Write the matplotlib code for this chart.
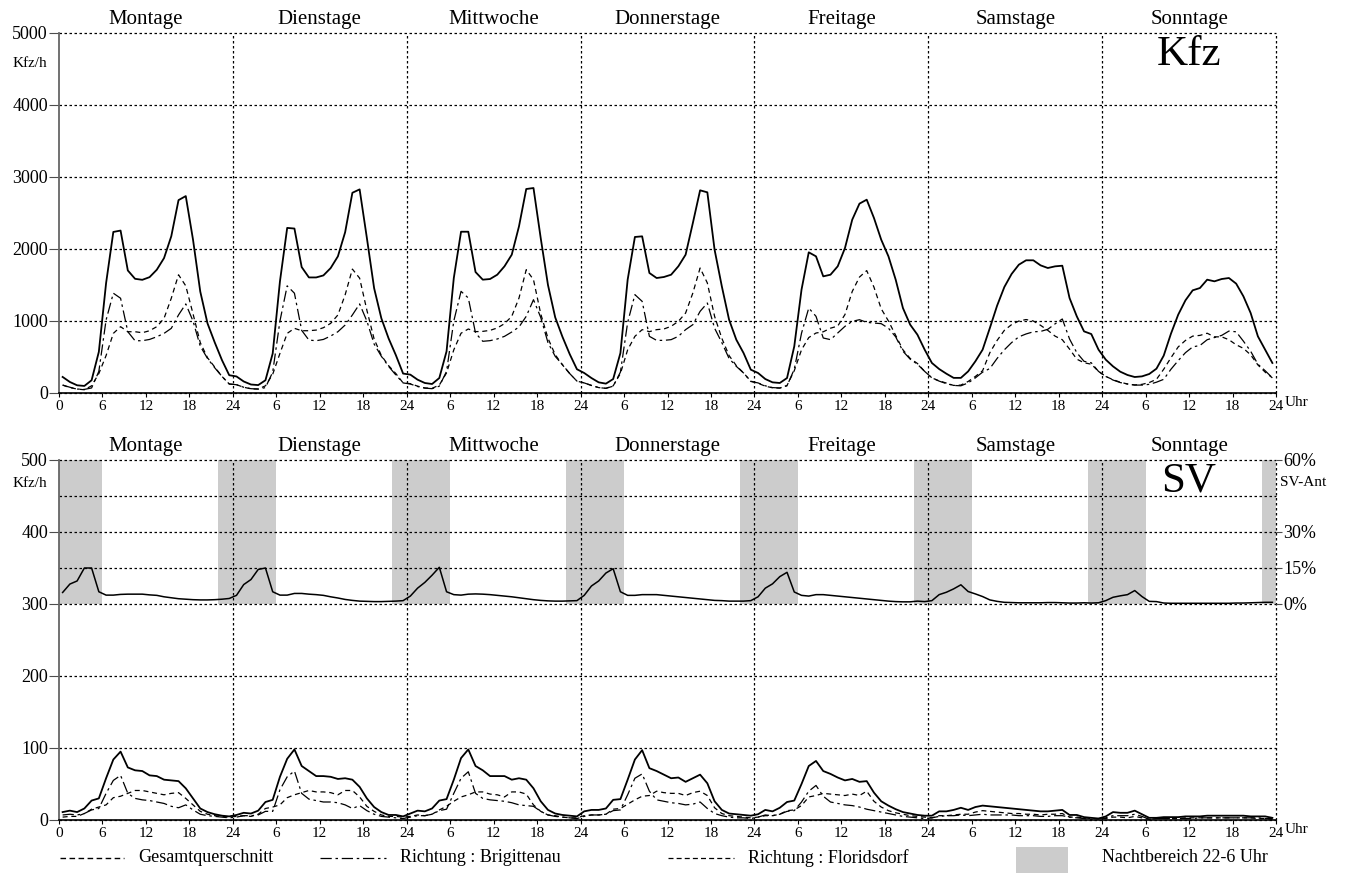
import numpy as np
import matplotlib
matplotlib.use("Agg")
import matplotlib.pyplot as plt
import matplotlib.transforms as mtransforms
from matplotlib.lines import Line2D
from matplotlib.patches import Rectangle

plt.rcParams['font.family'] = ['Liberation Serif', 'DejaVu Serif']

DAYS = ['Montage', 'Dienstage', 'Mittwoche', 'Donnerstage', 'Freitage', 'Samstage', 'Sonntage']
LEGEND_LABELS = ['Gesamtquerschnitt', 'Richtung : Brigittenau', 'Richtung : Floridsdorf',
                 'Nachtbereich 22-6 Uhr']

# Kfz/h, Stundenwerte (Mo..So, je 24 Werte)
KFZ_GES = [
    223, 153, 107, 98, 177, 572, 1526, 2237, 2256, 1702, 1586, 1572, 1609, 1712, 1874, 2177, 2679, 2735, 2130, 1409, 967, 702, 456, 247,
    230, 160, 118, 110, 177, 549, 1550, 2293, 2284, 1749, 1605, 1605, 1633, 1735, 1898, 2233, 2781, 2828, 2153, 1456, 1037, 758, 526, 270,
    255, 185, 139, 125, 208, 579, 1597, 2240, 2240, 1680, 1574, 1583, 1643, 1760, 1921, 2315, 2833, 2847, 2150, 1500, 1050, 780, 540, 330,
    278, 208, 148, 130, 194, 555, 1574, 2167, 2176, 1667, 1597, 1611, 1643, 1760, 1921, 2361, 2815, 2787, 1990, 1481, 1018, 740, 555, 324,
    278, 194, 148, 139, 208, 648, 1435, 1954, 1898, 1620, 1643, 1760, 2014, 2407, 2630, 2685, 2431, 2130, 1898, 1574, 1180, 949, 810, 602,
    417, 333, 268, 210, 210, 300, 440, 602, 903, 1213, 1472, 1653, 1782, 1843, 1843, 1773, 1736, 1759, 1768, 1319, 1065, 856, 819, 602,
    463, 370, 296, 250, 222, 231, 264, 338, 519, 824, 1088, 1287, 1426, 1458, 1574, 1551, 1583, 1597, 1519, 1343, 1111, 787, 602, 417,
]
KFZ_BRI = [
    110, 80, 55, 50, 70, 300, 1014, 1386, 1316, 851, 726, 726, 744, 781, 828, 898, 1084, 1237, 1000, 650, 480, 350, 230, 125,
    115, 80, 60, 55, 75, 290, 1000, 1488, 1386, 870, 735, 726, 744, 791, 851, 944, 1084, 1237, 1000, 680, 510, 370, 250, 140,
    125, 90, 68, 60, 95, 300, 1000, 1412, 1320, 833, 718, 727, 750, 787, 847, 917, 1065, 1296, 1050, 700, 509, 394, 270, 165,
    140, 105, 75, 65, 95, 290, 980, 1366, 1273, 787, 731, 731, 741, 787, 880, 949, 1134, 1250, 900, 700, 480, 370, 278, 160,
    140, 100, 75, 70, 100, 330, 830, 1180, 1065, 764, 741, 833, 926, 995, 1018, 981, 972, 963, 900, 780, 580, 470, 400, 300,
    210, 165, 130, 105, 100, 140, 210, 290, 340, 480, 600, 700, 780, 820, 850, 855, 885, 960, 1028, 750, 560, 440, 420, 300,
    230, 180, 145, 125, 110, 110, 120, 150, 190, 330, 450, 560, 640, 660, 740, 770, 800, 860, 850, 720, 580, 400, 310, 210,
]
KFZ_FLO = [
    110, 75, 55, 45, 100, 270, 520, 828, 921, 851, 851, 837, 865, 921, 1037, 1316, 1642, 1488, 1100, 700, 490, 360, 230, 125,
    115, 80, 58, 55, 100, 260, 550, 828, 898, 865, 865, 874, 907, 967, 1084, 1363, 1721, 1595, 1150, 750, 520, 380, 270, 140,
    130, 95, 70, 65, 110, 280, 600, 830, 889, 852, 856, 870, 903, 963, 1065, 1319, 1713, 1574, 1100, 760, 532, 390, 270, 165,
    140, 105, 75, 65, 100, 270, 600, 787, 880, 852, 880, 889, 926, 995, 1111, 1389, 1736, 1528, 1065, 760, 520, 380, 278, 165,
    135, 95, 72, 68, 105, 310, 600, 770, 833, 850, 900, 930, 1090, 1410, 1610, 1700, 1470, 1170, 1000, 800, 600, 480, 410, 300,
    210, 168, 138, 105, 110, 160, 230, 310, 560, 730, 870, 950, 1000, 1020, 1000, 940, 870, 790, 740, 610, 470, 420, 400, 300,
    230, 185, 150, 125, 112, 120, 145, 190, 330, 490, 640, 730, 790, 800, 830, 780, 780, 740, 670, 620, 530, 390, 290, 210,
]

# SV Kfz/h
SV_GES = [
    11, 13, 11, 16, 27, 30, 58, 84, 95, 73, 69, 68, 62, 61, 56, 55, 54, 44, 30, 16, 11, 8, 6, 5,
    7, 10, 9, 13, 25, 28, 60, 85, 98, 75, 68, 61, 61, 60, 57, 58, 56, 46, 30, 18, 11, 7, 7, 5,
    9, 13, 12, 16, 27, 29, 56, 86, 98, 75, 69, 61, 61, 61, 56, 58, 56, 44, 26, 14, 9, 7, 6, 5,
    12, 14, 14, 16, 28, 29, 56, 84, 97, 72, 68, 63, 58, 59, 53, 58, 63, 51, 26, 14, 9, 8, 7, 6,
    8, 14, 12, 17, 25, 27, 50, 75, 82, 68, 64, 59, 55, 57, 53, 54, 38, 26, 20, 15, 11, 9, 7, 6,
    6, 12, 12, 14, 17, 14, 18, 20, 19, 18, 17, 16, 15, 14, 13, 12, 12, 13, 14, 7, 7, 4, 3, 2,
    5, 11, 10, 10, 13, 8, 3, 3, 4, 4, 4, 5, 5, 5, 6, 6, 6, 6, 6, 6, 5, 5, 5, 3,
]
SV_BRI = [
    7, 8, 7, 9, 14, 16, 37, 55, 62, 37, 30, 28, 27, 25, 23, 19, 17, 21, 14, 8, 6, 5, 4, 3,
    4, 6, 6, 7, 12, 12, 42, 60, 68, 37, 29, 27, 25, 25, 24, 21, 16, 20, 13, 8, 5, 4, 3, 2,
    4, 6, 6, 8, 13, 15, 37, 58, 67, 37, 30, 28, 27, 26, 24, 21, 20, 19, 12, 7, 5, 4, 3, 2,
    5, 7, 7, 8, 13, 14, 35, 58, 64, 40, 28, 26, 24, 23, 21, 22, 25, 16, 9, 6, 4, 3, 3, 2,
    4, 7, 6, 8, 12, 13, 25, 40, 48, 33, 25, 23, 21, 20, 18, 15, 13, 11, 9, 7, 5, 4, 3, 2,
    3, 5, 6, 6, 7, 6, 7, 8, 7, 7, 7, 7, 6, 6, 6, 5, 5, 6, 6, 4, 3, 2, 1, 2,
    3, 6, 6, 6, 8, 5, 1, 2, 2, 2, 2, 2, 2, 3, 3, 3, 3, 3, 3, 3, 3, 3, 2, 2,
]
SV_FLO = [
    4, 5, 5, 9, 15, 18, 21, 31, 33, 37, 41, 41, 39, 37, 35, 37, 38, 30, 21, 12, 8, 6, 5, 4,
    5, 6, 5, 8, 16, 18, 21, 31, 35, 38, 41, 39, 39, 38, 35, 41, 41, 32, 19, 12, 7, 5, 5, 4,
    5, 7, 6, 8, 14, 19, 26, 32, 35, 39, 39, 36, 35, 32, 39, 39, 36, 21, 12, 7, 6, 4, 3, 3,
    6, 7, 7, 8, 15, 16, 22, 28, 33, 34, 40, 38, 37, 37, 34, 38, 40, 34, 17, 9, 6, 5, 4, 3,
    4, 6, 6, 8, 13, 14, 20, 32, 34, 37, 36, 35, 34, 36, 34, 40, 26, 18, 13, 10, 8, 6, 5, 4,
    3, 6, 6, 7, 8, 8, 11, 13, 12, 11, 10, 9, 9, 8, 8, 7, 8, 8, 9, 4, 4, 3, 2, 2,
    2, 4, 4, 3, 5, 3, 1, 2, 2, 2, 2, 3, 3, 3, 3, 3, 3, 3, 3, 3, 3, 2, 2, 1,
]

# SV-Anteil in %
SV_ANT = [
    4.8, 8.3, 9.6, 15.0, 15.0, 5.1, 3.7, 3.7, 4.0, 4.1, 4.1, 4.1, 3.8, 3.6, 3.0, 2.6, 2.2, 2.0, 1.8, 1.7, 1.7, 1.8, 2.0, 2.3,
    3.6, 8.1, 10.2, 14.4, 15.0, 5.1, 3.7, 3.7, 4.4, 4.4, 4.1, 3.9, 3.6, 3.0, 2.5, 1.9, 1.5, 1.2, 1.1, 1.0, 1.0, 1.1, 1.2, 1.4,
    3.3, 6.6, 9.0, 12.0, 15.3, 5.1, 3.9, 3.7, 4.1, 4.2, 4.1, 3.9, 3.6, 3.3, 3.0, 2.6, 2.2, 1.8, 1.5, 1.3, 1.2, 1.2, 1.3, 1.4,
    3.6, 7.5, 9.6, 12.9, 14.7, 5.1, 3.6, 3.6, 3.9, 3.9, 3.9, 3.6, 3.3, 3.0, 2.7, 2.4, 2.1, 1.8, 1.5, 1.4, 1.2, 1.2, 1.2, 1.4,
    3.0, 6.6, 8.4, 11.4, 13.2, 5.0, 3.6, 3.3, 3.9, 3.9, 3.6, 3.3, 3.0, 2.7, 2.4, 2.1, 1.8, 1.5, 1.2, 1.0, 0.9, 0.9, 1.2, 1.0,
    1.4, 3.9, 4.9, 6.3, 8.0, 5.2, 4.2, 3.1, 1.7, 1.1, 0.7, 0.6, 0.5, 0.5, 0.5, 0.5, 0.6, 0.6, 0.5, 0.4, 0.4, 0.5, 0.4, 0.5,
    1.4, 2.8, 3.4, 3.9, 5.6, 3.1, 1.1, 1.0, 0.4, 0.3, 0.3, 0.3, 0.3, 0.3, 0.3, 0.3, 0.3, 0.3, 0.4, 0.4, 0.5, 0.6, 0.7, 0.7,
]

NIGHT_FROM, NIGHT_TO = 22, 6
SV_ANT_TICKS = [0, 15, 30, 60]

hours = np.arange(len(KFZ_GES)) + 0.5
n_hours = 24 * len(DAYS)
xticks = np.arange(0, n_hours + 1, 6)
xticklabels = ['0' if t == 0 else str(t % 24 or 24) for t in xticks]

GRID = dict(color='black', lw=0.9, ls=(0, (2, 2)), zorder=2, clip_on=False)
STYLE_GES = dict(color='black', lw=1.3, ls='-', zorder=4)
STYLE_BRI = dict(color='black', lw=0.9, ls=(0, (9, 3, 2, 3)), zorder=4)
STYLE_FLO = dict(color='black', lw=0.9, ls=(0, (4, 3)), zorder=4)
NIGHT_GRAY = '#cccccc'

W, H = 1347, 874
fig = plt.figure(figsize=(W / 100, H / 100), dpi=100)


def px_box(x0, y_top, x1, y_bot):
    return [x0 / W, 1 - y_bot / H, (x1 - x0) / W, (y_bot - y_top) / H]


def style_axis(ax, ymax, yticks, grid_y):
    ax.set_xlim(0, n_hours)
    ax.set_ylim(0, ymax)
    for s in ['top', 'right']:
        ax.spines[s].set_visible(False)
    ax.spines['left'].set_color('0.4')
    ax.spines['left'].set_linewidth(1.3)
    ax.spines['bottom'].set_linestyle((0, (2, 1)))
    ax.spines['bottom'].set_linewidth(1.2)
    for y in grid_y:
        ax.axhline(y, **GRID)
    for x in range(24, n_hours + 1, 24):
        ax.axvline(x, **GRID)
    ax.set_xticks(xticks)
    ax.set_xticklabels(xticklabels, fontsize=11)
    ax.set_yticks(yticks)
    ax.set_yticklabels([str(v) for v in yticks], fontsize=13)
    ax.tick_params(axis='x', direction='out', length=3, pad=2)
    ax.tick_params(axis='y', direction='out', length=7, pad=1, color='0.3')
    ax.patch.set_visible(False)
    # Tagesnamen
    trans = mtransforms.blended_transform_factory(ax.transData, ax.transAxes)
    for i, name in enumerate(DAYS):
        ax.text(i * 24 + 12, 1.025, name, transform=trans, ha='center', va='baseline', fontsize=15)
    # Einheit "Uhr"
    uhr = mtransforms.offset_copy(ax.transData, fig=fig, x=9, y=-3, units='dots')
    ax.text(n_hours, 0, 'Uhr', transform=uhr, ha='left', va='top', fontsize=11)


# ---------- Kfz ----------
ax1 = fig.add_axes(px_box(59, 33, 1276, 393))
style_axis(ax1, 5000, list(range(0, 5001, 1000)), list(range(0, 5001, 1000)))
ax1.plot(hours, KFZ_GES, **STYLE_GES)
ax1.plot(hours, KFZ_BRI, **STYLE_BRI)
ax1.plot(hours, KFZ_FLO, **STYLE_FLO)
ax1.text(-0.024, 4530, 'Kfz/h', transform=mtransforms.blended_transform_factory(ax1.transAxes, ax1.transData),
         ha='center', va='baseline', fontsize=11)
ax1.text(156, 4555, 'Kfz', ha='center', va='baseline', fontsize=31)

# ---------- SV ----------
ax2 = fig.add_axes(px_box(59, 460, 1276, 820))
style_axis(ax2, 500, list(range(0, 501, 100)), [0, 100, 200, 300, 350, 400, 450, 500])
for d in range(len(DAYS) + 1):
    x0 = max(d * 24 - (24 - NIGHT_FROM), 0)
    x1 = min(d * 24 + NIGHT_TO, n_hours)
    if x1 > x0:
        ax2.axvspan(x0, x1, ymin=0.6, ymax=1.0, color=NIGHT_GRAY, lw=0, zorder=1)
ax2.plot(hours, SV_GES, **STYLE_GES)
ax2.plot(hours, SV_BRI, **STYLE_BRI)
ax2.plot(hours, SV_FLO, **STYLE_FLO)
ax2.text(-0.024, 462, 'Kfz/h', transform=mtransforms.blended_transform_factory(ax2.transAxes, ax2.transData),
         ha='center', va='baseline', fontsize=11)
ax2.text(156, 456, 'SV', ha='center', va='baseline', fontsize=31)

ax2r = ax2.twinx()
ax2r.set_ylim(-90, 60)
for s in ax2r.spines.values():
    s.set_visible(False)
ax2r.set_yticks(SV_ANT_TICKS)
ax2r.set_yticklabels([f'{v}%' for v in SV_ANT_TICKS], fontsize=13)
ax2r.tick_params(axis='y', direction='out', length=4, pad=1, color='0.3')
ax2r.plot(hours, SV_ANT, color='black', lw=1.1, zorder=4)
ax2r.text(1.003, 49, 'SV-Ant', transform=mtransforms.blended_transform_factory(ax2r.transAxes, ax2r.transData),
          ha='left', va='baseline', fontsize=11)

# ---------- Legende ----------
ly = 1 - 858 / H
leg_items = [
    (60, 124, 138, dict(color='black', lw=1.0, ls=(0, (4, 2.5)))),
    (320, 386, 400, dict(color='black', lw=0.9, ls=(0, (9, 3, 2, 3)))),
    (668, 734, 748, dict(color='black', lw=0.9, ls=(0, (4, 2.5)))),
]
for (x0, x1, xt, st), label in zip(leg_items, LEGEND_LABELS[:3]):
    fig.add_artist(Line2D([x0 / W, x1 / W], [ly, ly], transform=fig.transFigure, **st))
    fig.text(xt / W, ly, label, ha='left', va='center', fontsize=13)
fig.add_artist(Rectangle((1016 / W, 1 - 873 / H), 52 / W, 26 / H, transform=fig.transFigure,
                         facecolor=NIGHT_GRAY, edgecolor='none'))
fig.text(1102 / W, ly, LEGEND_LABELS[3], ha='left', va='center', fontsize=13)

fig.savefig('out.png', dpi=100)
